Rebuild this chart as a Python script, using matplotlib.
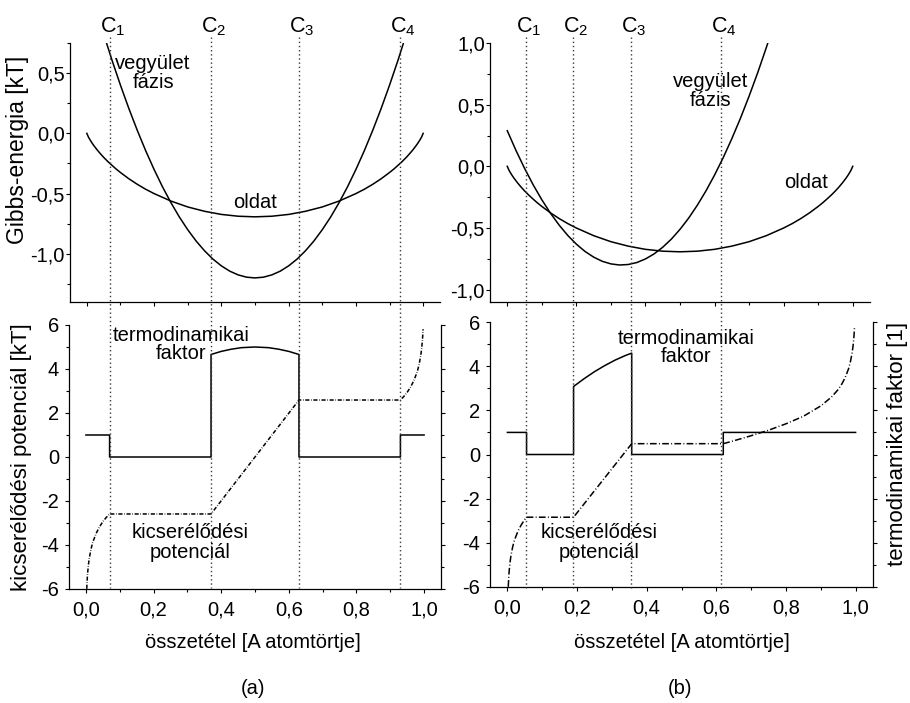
import matplotlib
matplotlib.use("Agg")
import matplotlib.pyplot as plt
import matplotlib.transforms as mtrans
from matplotlib.lines import Line2D
from matplotlib.ticker import MultipleLocator, FuncFormatter

# ---------------------------------------------------------------- data
# ideal solution ("oldat") Gibbs energy, same in both panels
x_sol = [0.0, 0.005, 0.01, 0.015, 0.02, 0.03, 0.04, 0.05, 0.0625, 0.075,
         0.0875, 0.1, 0.125, 0.15, 0.175, 0.2, 0.25, 0.3, 0.35, 0.4, 0.45, 0.5,
         0.55, 0.6, 0.65, 0.7, 0.75, 0.8, 0.825, 0.85, 0.875, 0.9, 0.9125,
         0.925, 0.9375, 0.95, 0.96, 0.97, 0.98, 0.985, 0.99, 0.995, 1.0]
g_sol = [0.0, -0.032, -0.056, -0.078, -0.098, -0.135, -0.168, -0.199, -0.234,
         -0.266, -0.297, -0.325, -0.377, -0.423, -0.464, -0.500, -0.562, -0.611,
         -0.647, -0.673, -0.688, -0.693, -0.688, -0.673, -0.647, -0.611, -0.562,
         -0.500, -0.464, -0.423, -0.377, -0.325, -0.297, -0.266, -0.234, -0.199,
         -0.168, -0.135, -0.098, -0.078, -0.056, -0.032, 0.0]

# compound phase ("vegyület fázis"), panel (a)
x_cmp_a = [0.05, 0.075, 0.1, 0.125, 0.15, 0.175, 0.2, 0.225, 0.25, 0.275, 0.3,
           0.325, 0.35, 0.375, 0.4, 0.425, 0.45, 0.475, 0.5, 0.525, 0.55, 0.575,
           0.6, 0.625, 0.65, 0.675, 0.7, 0.725, 0.75, 0.775, 0.8, 0.825, 0.85,
           0.875, 0.9, 0.925, 0.95]
g_cmp_a = [0.825, 0.606, 0.400, 0.206, 0.025, -0.144, -0.300, -0.444, -0.575,
           -0.694, -0.800, -0.894, -0.975, -1.044, -1.100, -1.144, -1.175,
           -1.194, -1.200, -1.194, -1.175, -1.144, -1.100, -1.044, -0.975,
           -0.894, -0.800, -0.694, -0.575, -0.444, -0.300, -0.144, 0.025, 0.206,
           0.400, 0.606, 0.825]

# compound phase, panel (b)
x_cmp_b = [0.0, 0.025, 0.05, 0.075, 0.1, 0.125, 0.15, 0.175, 0.2, 0.225, 0.25,
           0.275, 0.3, 0.325, 0.35, 0.375, 0.4, 0.425, 0.45, 0.475, 0.5, 0.525,
           0.55, 0.575, 0.6, 0.625, 0.65, 0.675, 0.7, 0.725, 0.75, 0.775]
g_cmp_b = [0.289, 0.130, -0.016, -0.150, -0.271, -0.380, -0.476, -0.560, -0.631,
           -0.690, -0.736, -0.770, -0.791, -0.800, -0.796, -0.780, -0.751,
           -0.710, -0.656, -0.590, -0.511, -0.420, -0.316, -0.200, -0.071, 0.070,
           0.224, 0.390, 0.569, 0.760, 0.964, 1.180]

# phase-boundary compositions C1..C4
c_a = [0.07, 0.37, 0.63, 0.93]
c_b = [0.055, 0.19, 0.357, 0.62]
c_names = ["C$_1$", "C$_2$", "C$_3$", "C$_4$"]

# thermodynamic factor (solid) and exchange potential (dash-dot), panel (a)
x_tf_a = [0.0, 0.07, 0.07, 0.37, 0.37, 0.40, 0.43, 0.46, 0.50, 0.54, 0.57,
          0.60, 0.63, 0.63, 0.93, 0.93, 1.0]
tf_a = [1, 1, 0, 0, 4.66, 4.80, 4.90, 4.97, 5.00, 4.97, 4.90, 4.80, 4.66, 0, 0,
        1, 1]
x_mu_a = [0.0025, 0.003, 0.004, 0.005, 0.0075, 0.01, 0.015, 0.02, 0.03, 0.04,
          0.05, 0.06, 0.07, 0.37, 0.63, 0.93, 0.94, 0.95, 0.96, 0.97, 0.98,
          0.985, 0.99, 0.9925, 0.995, 0.996, 0.997]
mu_a = [-5.99, -5.81, -5.52, -5.29, -4.89, -4.60, -4.19, -3.89, -3.48, -3.18,
        -2.94, -2.75, -2.59, -2.59, 2.59, 2.59, 2.75, 2.94, 3.18, 3.48, 3.89,
        4.19, 4.60, 4.89, 5.29, 5.52, 5.81]

# thermodynamic factor and exchange potential, panel (b)
x_tf_b = [0.0, 0.055, 0.055, 0.19, 0.19, 0.22, 0.25, 0.28, 0.31, 0.34, 0.357,
          0.357, 0.62, 0.62, 1.0]
tf_b = [1, 1, 0, 0, 3.08, 3.43, 3.75, 4.03, 4.28, 4.49, 4.59, 0, 0, 1, 1]
x_mu_b = [0.0025, 0.003, 0.004, 0.005, 0.0075, 0.01, 0.015, 0.02, 0.03, 0.04,
          0.05, 0.055, 0.19, 0.357, 0.62, 0.65, 0.7, 0.75, 0.8, 0.85, 0.9,
          0.93, 0.95, 0.96, 0.97, 0.98, 0.985, 0.99, 0.9925, 0.995, 0.996,
          0.997]
mu_b = [-5.99, -5.81, -5.52, -5.29, -4.89, -4.60, -4.19, -3.89, -3.48, -3.18,
        -2.94, -2.84, -2.84, 0.49, 0.49, 0.62, 0.85, 1.10, 1.39, 1.73, 2.20,
        2.59, 2.94, 3.18, 3.48, 3.89, 4.19, 4.60, 4.89, 5.29, 5.52, 5.81]

# ---------------------------------------------------------------- style
plt.rcParams.update({
    "font.family": ["Liberation Sans", "DejaVu Sans"],
    "font.size": 14.5,
    "mathtext.fontset": "custom",
    "mathtext.rm": "Liberation Sans",
    "mathtext.default": "rm",
    "axes.linewidth": 0.9,
})

W, H = 910, 703
fig = plt.figure(figsize=(W / 100, H / 100), dpi=100)


def box(left, right, top, bottom):
    return [left / W, 1 - bottom / H, (right - left) / W, (bottom - top) / H]


def comma(decimals):
    return FuncFormatter(lambda v, p: f"{v:.{decimals}f}".replace(".", ","))


def style_common(ax):
    ax.set_xlim(-0.05, 1.05)
    ax.spines["top"].set_visible(False)
    ax.xaxis.set_major_locator(MultipleLocator(0.2))
    ax.xaxis.set_minor_locator(MultipleLocator(0.1))
    ax.tick_params(which="both", direction="out", top=False, width=0.8,
                   labelsize=14.5)
    ax.tick_params(which="major", length=3.2)
    ax.tick_params(which="minor", length=2.2)


def style_top(ax, ylim):
    style_common(ax)
    ax.set_ylim(*ylim)
    ax.spines["right"].set_visible(False)
    ax.yaxis.set_major_locator(MultipleLocator(0.5))
    ax.yaxis.set_minor_locator(MultipleLocator(0.25))
    ax.yaxis.set_major_formatter(comma(1))
    ax.tick_params(which="both", right=False, labelbottom=False)
    ax.tick_params(axis="y", pad=0.5)


def style_bottom(ax):
    style_common(ax)
    ax.set_ylim(-6, 6)
    ax.yaxis.set_major_locator(MultipleLocator(2))
    ax.yaxis.set_minor_locator(MultipleLocator(1))
    ax.yaxis.set_major_formatter(FuncFormatter(lambda v, p: f"{v:.0f}"))
    ax.xaxis.set_major_formatter(comma(1))
    ax.tick_params(which="both", right=True, labelright=False)
    ax.tick_params(axis="y", pad=4)
    ax.tick_params(axis="x", pad=5)


ax_at = fig.add_axes(box(70, 440, 43, 302))
ax_ab = fig.add_axes(box(69, 441, 325, 589))
ax_bt = fig.add_axes(box(490, 870, 43, 302))
ax_bb = fig.add_axes(box(490, 873, 322, 587))

style_top(ax_at, (-1.4, 0.75))
style_top(ax_bt, (-1.1, 1.0))
style_bottom(ax_ab)
style_bottom(ax_bb)

line_kw = dict(color="black", lw=1.1)
mu_a_style = (0, (2.7, 1.1, 0.4, 1.1))
mu_b_style = (0, (4.4, 1.5, 0.6, 1.5))

# Gibbs energy curves
ax_at.plot(x_sol, g_sol, **line_kw)
ax_at.plot(x_cmp_a, g_cmp_a, **line_kw)
ax_bt.plot(x_sol, g_sol, **line_kw)
ax_bt.plot(x_cmp_b, g_cmp_b, **line_kw)

# thermodynamic factor and exchange potential
ax_ab.plot(x_tf_a, tf_a, **line_kw)
ax_ab.plot(x_mu_a, mu_a, ls=mu_a_style, **line_kw)
ax_bb.plot(x_tf_b, tf_b, **line_kw)
ax_bb.plot(x_mu_b, mu_b, ls=mu_b_style, **line_kw)

# phase-boundary markers running through both panels of a column
for ax_ref, cs in ((ax_at, c_a), (ax_bt, c_b)):
    trans = mtrans.blended_transform_factory(ax_ref.transData, fig.transFigure)
    for c, name in zip(cs, c_names):
        fig.add_artist(Line2D([c, c], [1 - 37 / H, 1 - 588 / H],
                              transform=trans, color="#3a3a3a", lw=1.0,
                              ls=(0, (1, 2))))
        shift = mtrans.offset_copy(trans, fig=fig, x=2, y=0, units="points")
        fig.text(c, 1 - 32 / H, name, transform=shift, ha="center",
                 va="baseline", fontsize=15.5)

# curve annotations
ax_at.text(0.197, 0.50, "vegyület\nfázis", ha="center", va="center",
           linespacing=1.0)
ax_at.text(0.50, -0.57, "oldat", ha="center", va="center")
ax_bt.text(0.589, 0.61, "vegyület\nfázis", ha="center", va="center",
           linespacing=1.0)
ax_bt.text(0.864, -0.13, "oldat", ha="center", va="center")

ax_ab.text(0.281, 5.1, "termodinamikai\nfaktor", ha="center", va="center",
           linespacing=0.95)
ax_ab.text(0.308, -3.9, "kicserélődési\npotenciál", ha="center", va="center",
           linespacing=1.05)
ax_bb.text(0.513, 4.83, "termodinamikai\nfaktor", ha="center", va="center",
           linespacing=0.95)
ax_bb.text(0.263, -4.0, "kicserélődési\npotenciál", ha="center", va="center",
           linespacing=1.05)

# axis titles
fig.text(18 / W, 1 - 150 / H, "Gibbs-energia [kT]", rotation=90,
         ha="center", va="center", fontsize=16.5)
fig.text(22 / W, 1 - 457 / H, "kicserélődési potenciál [kT]", rotation=90,
         ha="center", va="center", fontsize=16)
fig.text(898 / W, 1 - 444 / H, "termodinamikai faktor [1]", rotation=90,
         ha="center", va="center", fontsize=16)
for xc in (253, 682):
    fig.text(xc / W, 1 - 643 / H, "összetétel [A atomtörtje]",
             ha="center", va="center")
fig.text(253 / W, 1 - 688 / H, "(a)", ha="center", va="center")
fig.text(680 / W, 1 - 688 / H, "(b)", ha="center", va="center")

fig.savefig("out.png", dpi=100)
